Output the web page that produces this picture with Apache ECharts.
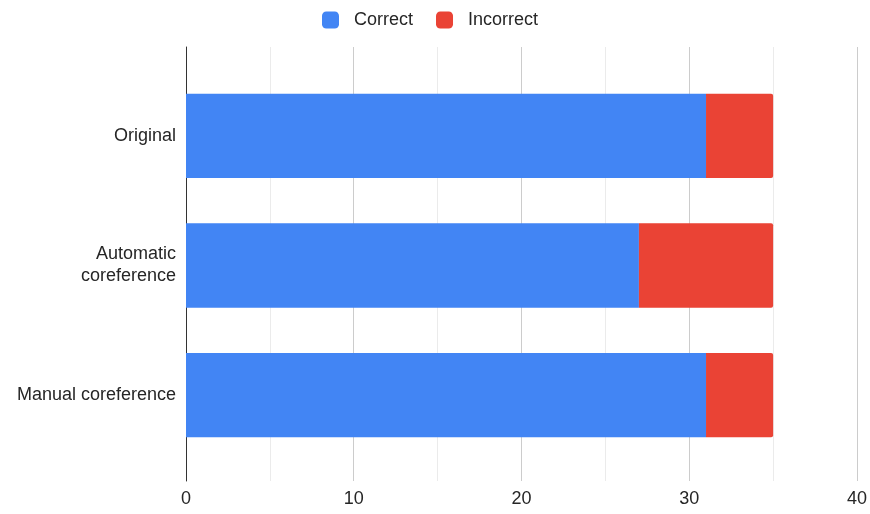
<!DOCTYPE html>
<html><head><meta charset="utf-8">
<script src="https://cdn.jsdelivr.net/npm/echarts@6/dist/echarts.min.js"></script>
<style>html,body{margin:0;padding:0;background:#fff}#c{width:870px;height:514px}</style>
</head><body><div id="c"></div>
<script>
const categories = ["Original", "Automatic\ncoreference", "Manual coreference"];
const correct = [31, 27, 31];
const incorrect = [4, 8, 4];
const xTicks = [0, 10, 20, 30, 40];

const FONT = '"Liberation Sans", Arial, sans-serif';
const chart = echarts.init(document.getElementById('c'), null, {renderer: 'canvas'});
chart.setOption({
  animation: false,
  textStyle: {fontFamily: FONT},
  legend: {
    top: 11, left: 322, padding: 0, itemWidth: 17, itemHeight: 17, itemGap: 23,
    icon: 'roundRect',
    textStyle: {fontSize: 18, color: '#262626', fontFamily: FONT, padding: [0, 0, 0, 10]},
    data: ['Correct', 'Incorrect']
  },
  grid: [
    {left: 186, right: 13, top: 47, bottom: 33, containLabel: false},
    {left: 186, right: 13, top: 71, bottom: 54, containLabel: false}
  ],
  xAxis: [
    {
      gridIndex: 0, type: 'value', min: 0, max: 40, interval: 10,
      axisLine: {show: false}, axisTick: {show: false},
      splitLine: {lineStyle: {color: '#cccccc', width: 1}},
      minorTick: {show: false, splitNumber: 2},
      minorSplitLine: {show: true, lineStyle: {color: '#ebebeb', width: 1}},
      axisLabel: {fontSize: 18, color: '#262626', margin: 9, fontFamily: FONT,
                  formatter: v => xTicks.includes(v) ? String(v) : ''}
    },
    {
      gridIndex: 1, type: 'value', min: 0, max: 40, interval: 10, show: false,
      splitLine: {show: false}
    }
  ],
  yAxis: [
    {
      gridIndex: 0, type: 'value', min: 0, max: 1,
      axisLine: {show: true, lineStyle: {color: '#333', width: 1}},
      axisTick: {show: false}, axisLabel: {show: false}, splitLine: {show: false}
    },
    {
      gridIndex: 1, type: 'category', data: categories, inverse: true,
      axisLine: {show: false}, axisTick: {show: false},
      axisLabel: {fontSize: 18, color: '#262626', margin: 10, lineHeight: 22, align: 'right', fontFamily: FONT}
    }
  ],
  series: [
    {name: 'Correct', type: 'bar', stack: 't', data: correct, barCategoryGap: '35%',
     xAxisIndex: 1, yAxisIndex: 1,
     itemStyle: {color: '#4285f4'}},
    {name: 'Incorrect', type: 'bar', stack: 't', data: incorrect,
     xAxisIndex: 1, yAxisIndex: 1,
     itemStyle: {color: '#ea4335', borderRadius: [0, 2, 2, 0]}}
  ]
});
</script></body></html>
